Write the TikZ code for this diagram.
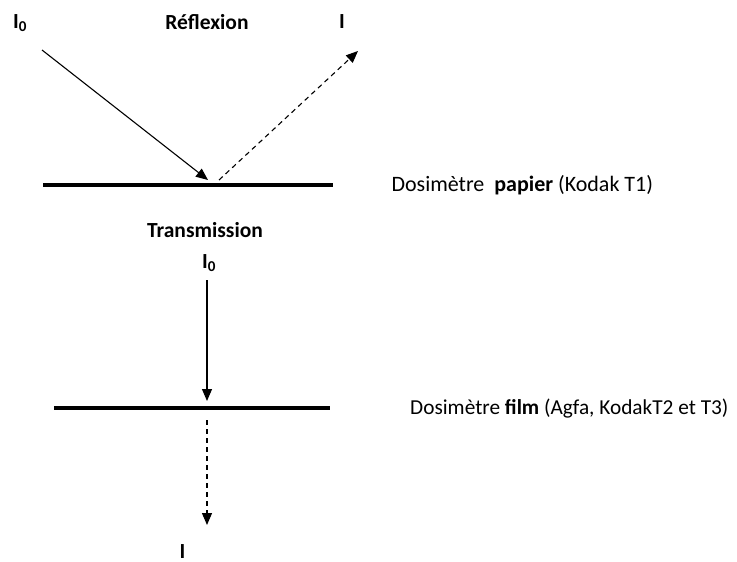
\documentclass[tikz,border=0pt]{standalone}
\usepackage{fontspec}
\setmainfont{Carlito}
\usetikzlibrary{arrows.meta}
\begin{document}
\begin{tikzpicture}[x=1pt,y=-1pt,
  lbl/.style={font=\fontsize{22}{26}\selectfont},
  blbl/.style={font=\bfseries\fontsize{21.5}{25}\selectfont},
  plate/.style={line width=3.5pt},
  ray/.style={line width=1.1pt,-{Triangle[length=12pt,width=10pt]}},
  dray/.style={ray,dash pattern=on 5pt off 4pt}]
\useasboundingbox (0,0) rectangle (737,562);
% Reflection
\node[blbl] (i0a) at (20,23) {I\textsubscript{0}};
\node[blbl] (refl) at (207,22) {Réflexion};
\node[blbl] (ia) at (342,22) {I};
\coordinate (s1) at (42,50);
\coordinate (h1) at (208,180);
\coordinate (r1) at (219,180);
\coordinate (e1) at (358,51);
\coordinate (pl) at (43,185);
\coordinate (pr) at (333,185);
\draw[plate] (pl) -- (pr);
\draw[ray] (s1) -- (h1);
\draw[dray] (r1) -- (e1);
\node[lbl,anchor=west] (d1) at (388,185) {Dosimètre \ \textbf{papier} (Kodak T1)};
% Transmission
\node[blbl] (trans) at (205,230) {Transmission};
\node[blbl] (i0b) at (209,263) {I\textsubscript{0}};
\coordinate (s2) at (207,280);
\coordinate (h2) at (207,401);
\coordinate (fl) at (54,408);
\coordinate (fr) at (330,408);
\draw[plate] (fl) -- (fr);
\draw[ray] (s2) -- (h2);
\coordinate (t2) at (207,420);
\node[blbl,anchor=north,inner sep=0pt] (ib) at (182.5,544) {I};
\coordinate (e2) at (207,525);
\draw[dray] (t2) -- (e2);
\node[lbl,font=\fontsize{21.3}{25}\selectfont,anchor=west,inner sep=0pt] (d2) at (410,409) {Dosimètre \textbf{film} (Agfa, KodakT2 et T3)};
\end{tikzpicture}
\end{document}
